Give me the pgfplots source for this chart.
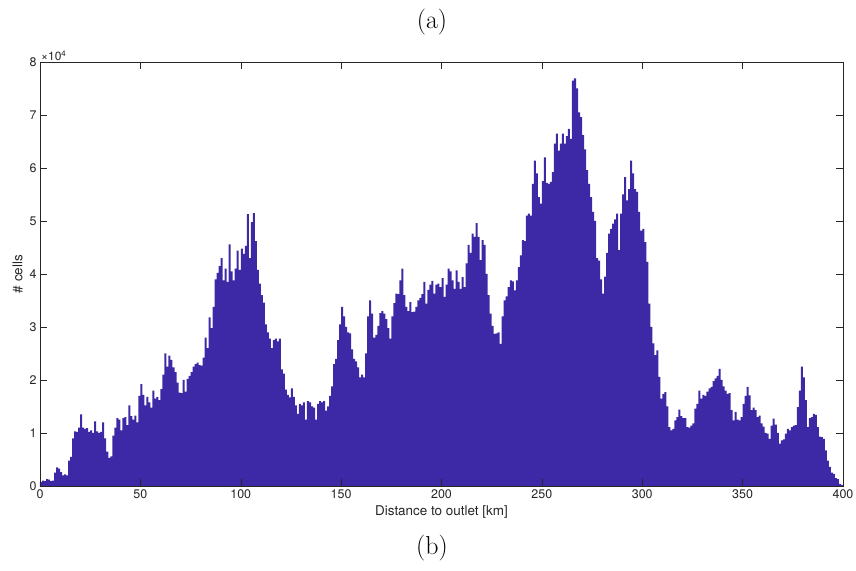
\documentclass[border=0pt]{standalone}
\usepackage{fontspec}
\usepackage{pgfplots}
\pgfplotsset{compat=1.18}
\usepackage{pgfplotstable}
\newfontfamily\heros{TeX Gyre Heros}
\definecolor{barcol}{RGB}{61,41,166}
\pgfplotstableread{
x y
0 800
1 1000
2 900
3 1300
4 1200
5 900
6 1000
7 2500
8 3500
9 3300
10 2600
11 2000
12 2200
13 2000
14 4800
15 5500
16 9000
17 10300
18 10200
19 11000
20 13500
21 11000
22 10800
23 10900
24 10200
25 10500
26 10000
27 12200
28 10300
29 10000
30 10200
31 12000
32 9000
33 6500
34 5300
35 5600
36 9500
37 11000
38 12800
39 12500
40 10500
41 12800
42 13000
43 11500
44 15200
45 13200
46 12500
47 13300
48 12000
49 17000
50 19200
51 17200
52 15200
53 16800
54 15800
55 14800
56 18000
57 16500
58 16800
59 16200
60 18300
61 21000
62 25000
63 22500
64 24600
65 23800
66 22400
67 21500
68 19500
69 17600
70 17500
71 20000
72 17800
73 20200
74 20800
75 21500
76 22500
77 23000
78 23300
79 22800
80 22700
81 24200
82 28000
83 26000
84 31800
85 29800
86 33800
87 39000
88 40200
89 41500
90 43000
91 38800
92 41000
93 38500
94 45600
95 40500
96 38800
97 41000
98 44400
99 40800
100 44800
101 43800
102 45300
103 51300
104 43000
105 49800
106 51500
107 46200
108 40800
109 38200
110 36000
111 34600
112 30500
113 29000
114 27800
115 26000
116 27500
117 27800
118 27300
119 27800
120 22000
121 21200
122 18200
123 17200
124 16700
125 18400
126 16800
127 15200
128 13600
129 15500
130 15200
131 15800
132 12500
133 16000
134 15800
135 15000
136 14800
137 12500
138 15500
139 16000
140 15800
141 16000
142 14200
143 15000
144 17000
145 18800
146 23000
147 24000
148 27500
149 30500
150 33800
151 32000
152 30000
153 29000
154 28800
155 25800
156 24000
157 23500
158 22400
159 20500
160 21000
161 20500
162 25000
163 32000
164 35000
165 32500
166 28000
167 28500
168 30200
169 32600
170 33000
171 32500
172 31500
173 29800
174 27800
175 32000
176 34500
177 36300
178 36200
179 38800
180 41000
181 36000
182 33800
183 33000
184 34700
185 32800
186 32900
187 33800
188 35000
189 35500
190 36200
191 38500
192 34400
193 37000
194 38000
195 38700
196 36300
197 38000
198 38200
199 37500
200 39200
201 35700
202 38000
203 41000
204 40500
205 38800
206 37200
207 40700
208 38500
209 37200
210 39400
211 37500
212 42000
213 45500
214 44000
215 47600
216 47000
217 49600
218 47000
219 42600
220 46400
221 45500
222 40000
223 36000
224 32500
225 30200
226 28700
227 28800
228 29000
229 26800
230 32000
231 35000
232 35800
233 37500
234 38800
235 38600
236 36900
237 38800
238 41300
239 43500
240 46400
241 46200
242 51000
243 51400
244 51000
245 57000
246 61400
247 59000
248 54500
249 53300
250 57500
251 62000
252 57200
253 57000
254 57400
255 59200
256 64600
257 66500
258 63300
259 64600
260 66500
261 64600
262 66000
263 67400
264 65500
265 76500
266 76900
267 75000
268 70500
269 69600
270 66200
271 63500
272 59600
273 57000
274 54500
275 51700
276 50000
277 43000
278 42500
279 39000
280 36300
281 39500
282 44000
283 47600
284 48500
285 49500
286 50300
287 51400
288 44500
289 51400
290 55000
291 58300
292 53900
293 56000
294 61400
295 59000
296 56000
297 55500
298 51700
299 48200
300 48500
301 46000
302 42300
303 34400
304 30000
305 26900
306 24700
307 25600
308 20600
309 16500
310 17400
311 17700
312 15000
313 11100
314 10500
315 10800
316 12400
317 13000
318 14400
319 13200
320 12800
321 12800
322 11100
323 11000
324 11400
325 11800
326 14600
327 15500
328 18000
329 16500
330 17200
331 17000
332 17800
333 18400
334 18700
335 19800
336 20300
337 20800
338 22100
339 20000
340 18800
341 18000
342 17400
343 17500
344 14300
345 12400
346 14000
347 12500
348 12400
349 13000
350 15500
351 17000
352 18700
353 17100
354 14300
355 14800
356 14300
357 13000
358 13300
359 11800
360 11200
361 10000
362 9900
363 8900
364 11400
365 12700
366 11600
367 10000
368 8000
369 8600
370 8800
371 9900
372 10800
373 10500
374 11100
375 11400
376 11500
377 14900
378 18000
379 22500
380 20500
381 16200
382 11100
383 12800
384 13000
385 13600
386 13400
387 11100
388 9300
389 9200
390 8900
391 6700
392 4800
393 3600
394 2500
395 2300
396 1500
397 1300
398 400
399 200
400 0
}\cells
\begin{document}
\begin{tikzpicture}
\path[use as bounding box] (-40bp,-85bp) rectangle (816bp,486bp);
\begin{axis}[
  scale only axis, width=803bp, height=424bp,
  at={(0,0)}, anchor=south west,
  xmin=0, xmax=400, ymin=0, ymax=80000,
  xtick={0,50,...,400}, ytick={0,10000,...,80000},
  scaled y ticks=base 10:-4,
  ytick scale label code/.code={},
  tick align=inside, major tick length=7bp,
  tick style={black!85, line width=0.5pt},
  axis line style={black!85, line width=0.6pt},
  /pgf/number format/assume math mode=true,
  tick label style={font=\heros\fontsize{12.5}{14}\selectfont, text=black!85},
  label style={font=\heros\fontsize{13.5}{16}\selectfont, text=black!85},
  xlabel={Distance to outlet [km]},
  ylabel={\# cells},
  axis on top,
  clip=false,
]
\addplot[const plot, fill=barcol, draw=none] table[x=x,y=y] {\cells} \closedcycle;
\node[anchor=south west, inner sep=1pt, font=\heros\fontsize{12}{14}\selectfont, text=black!85] at (rel axis cs:0,1) {×10\textsuperscript{4}};
\end{axis}
\node[font=\fontsize{26}{30}\selectfont] at (392bp,464bp) {(a)};
\node[font=\fontsize{26}{30}\selectfont] at (392bp,-62bp) {(b)};
\end{tikzpicture}
\end{document}
